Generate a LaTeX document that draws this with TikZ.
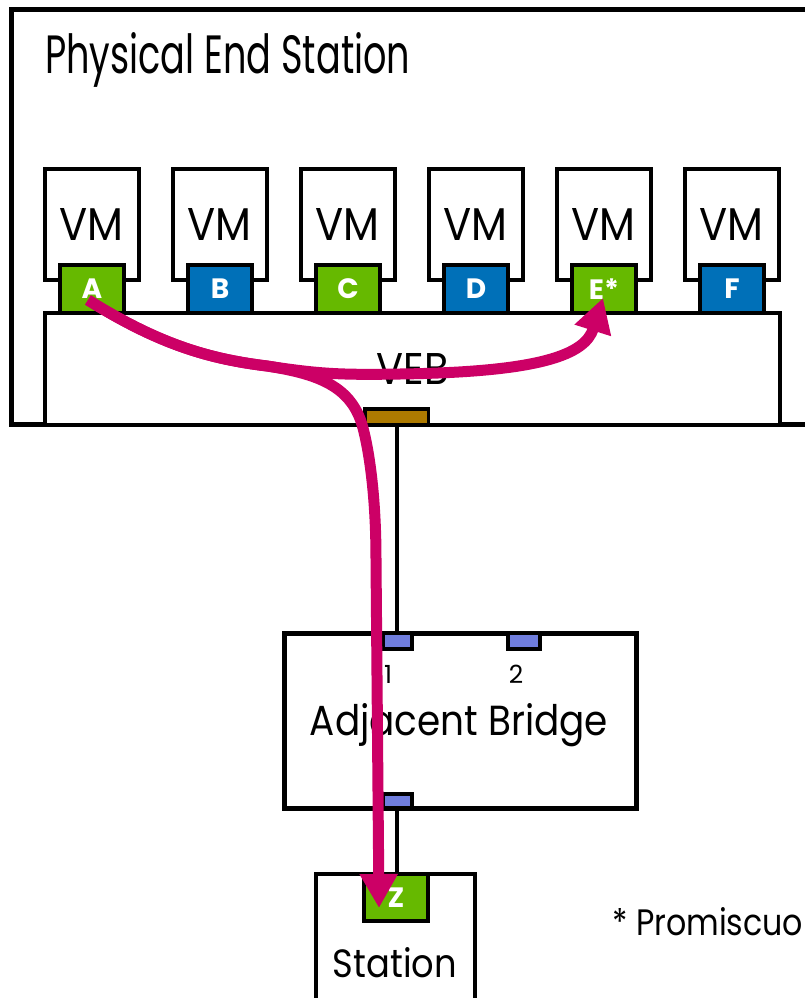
\documentclass[tikz,border=0pt]{standalone}
\usepackage{fontspec}
\setmainfont{Poppins}
\usepackage{graphicx}
\usetikzlibrary{arrows.meta}
\definecolor{portgreen}{RGB}{102,185,0}
\definecolor{portblue}{RGB}{0,112,184}
\definecolor{vebbrown}{RGB}{173,122,0}
\definecolor{brport}{RGB}{111,125,221}
\definecolor{flow}{RGB}{204,0,102}
\newcommand{\fitto}[3]{\resizebox{#1pt}{#2pt}{#3}}
\begin{document}
\begin{tikzpicture}[x=1pt,y=-1pt,
  vmbox/.style={draw, line width=4pt, fill=white, minimum width=93.5pt, minimum height=111pt, inner sep=0pt},
  vport/.style={draw, line width=4pt, minimum width=64pt, minimum height=48pt, inner sep=0pt, text=white, font=\bfseries\fontsize{28}{28}\selectfont},
  brp/.style={draw, line width=4pt, fill=brport, inner sep=0pt, minimum height=16pt},
  lbl/.style={inner sep=0pt, anchor=base},
  wire/.style={line width=3.5pt},
  flowline/.style={draw=flow, line width=11pt, -{Triangle[width=36pt,length=34pt]}}
]
\useasboundingbox (0,0) rectangle (805,998);
\fill[white] (0,0) rectangle (805,998);

% physical end station
\draw[line width=5pt] (805,9.5) -- (11.5,9.5) -- (11.5,424.5) -- (805,424.5);
\node[lbl, anchor=base west] (title) at (45,73) {\fitto{365}{41}{Physical End Station}};

% VMs
\foreach \n/\x in {1/91.75, 2/219.75, 3/347.75, 4/475.75, 5/603.75, 6/731.75}{
  \node[vmbox] (vm\n) at (\x,224.5) {\fitto{64}{32}{VM}};
}
\node[vport, fill=portgreen] (p1) at (92,289) {A};
\node[vport, fill=portblue]  (p2) at (220,289) {B};
\node[vport, fill=portgreen] (p3) at (348,289) {C};
\node[vport, fill=portblue]  (p4) at (476,289) {D};
\node[vport, fill=portgreen] (p5) at (604,289) {E*};
\node[vport, fill=portblue]  (p6) at (732,289) {F};

% VEB
\node[draw, line width=4pt, fill=white, minimum width=735pt, minimum height=112pt, inner sep=0pt] (veb) at (412.5,369) {\fitto{72}{31}{VEB}};
\node[draw, line width=3.5pt, fill=vebbrown, minimum width=63.5pt, minimum height=16pt, inner sep=0pt] (vebport) at (396.75,417) {};

% Adjacent bridge
\node[draw, line width=5pt, fill=white, minimum width=352pt, minimum height=175pt, inner sep=0pt] (bridge) at (460,720.5) {};
\node[brp, minimum width=29pt] (bp1) at (397.5,641) {};
\node[brp, minimum width=32pt] (bp2) at (524,641) {};
\node[brp, minimum width=29pt, minimum height=14pt] (bp3) at (397.5,801) {};
\node[lbl] (l1) at (388,683) {\fontsize{25}{25}\selectfont 1};
\node[lbl] (l2) at (516,683) {\fontsize{25}{25}\selectfont 2};
\node[lbl] (brtxt) at (459,735) {\fitto{298}{32}{Adjacent Bridge}};

% Station
\draw[line width=4pt] (316,998) -- (316,874) -- (475,874) -- (475,998);
\node[vport, fill=portgreen, minimum height=46.5pt] (zport) at (396,897.25) {Z};
\node[lbl] (sttxt) at (395,977) {\fitto{124}{30}{Station}};

% wires
\draw[wire] (vebport.south) -- (vebport.south |- bp1.north);
\draw[wire] (vebport.south |- bp3.south) -- (vebport.south |- zport.north);

% note
\node[lbl, anchor=base west] (note) at (612,935) {\fitto{191}{28}{* Promiscuo}};

% flows
\coordinate (fstart) at (88,300);
\coordinate (fsplit) at (267,366);
\coordinate (tipE) at (603,298);
\coordinate (tipZ) at (379,908);
\draw[flowline] (fstart) .. controls (160,345) and (210,359) .. (fsplit)
  .. controls (320,374) and (340,375) .. (400,374)
  .. controls (540,372) and (585,355) .. (tipE);
\draw[flowline] (fstart) .. controls (160,345) and (210,359) .. (fsplit)
  .. controls (318,374) and (352,386) .. (363,428)
  .. controls (370,455) and (376,500) .. (376,560) -- (tipZ);
\end{tikzpicture}
\end{document}
